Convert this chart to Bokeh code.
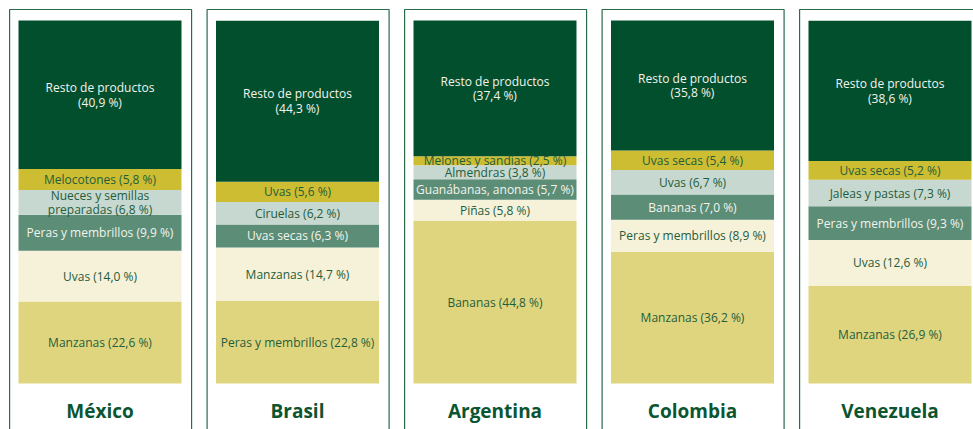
from bokeh.plotting import figure
from bokeh.models import Range1d, ColumnDataSource
from bokeh.core.properties import value
from bokeh.embed import file_html
from bokeh.resources import INLINE

countries = ["México", "Brasil", "Argentina", "Colombia", "Venezuela"]

# products listed bottom -> top
mexico_products = ["Manzanas", "Uvas", "Peras y membrillos", "Nueces y semillas\npreparadas", "Melocotones", "Resto de productos\n"]
mexico_values = [22.6, 14.0, 9.9, 6.8, 5.8, 40.9]

brasil_products = ["Peras y membrillos", "Manzanas", "Uvas secas", "Ciruelas", "Uvas", "Resto de productos\n"]
brasil_values = [22.8, 14.7, 6.3, 6.2, 5.6, 44.3]

argentina_products = ["Bananas", "Piñas", "Guanábanas, anonas", "Almendras", "Melones y sandías", "Resto de productos\n"]
argentina_values = [44.8, 5.8, 5.7, 3.8, 2.5, 37.4]

colombia_products = ["Manzanas", "Peras y membrillos", "Bananas", "Uvas", "Uvas secas", "Resto de productos\n"]
colombia_values = [36.2, 8.9, 7.0, 6.7, 5.4, 35.8]

venezuela_products = ["Manzanas", "Uvas", "Peras y membrillos", "Jaleas y pastas", "Uvas secas", "Resto de productos\n"]
venezuela_values = [26.9, 12.6, 9.3, 7.3, 5.2, 38.6]

all_products = [mexico_products, brasil_products, argentina_products, colombia_products, venezuela_products]
all_values = [mexico_values, brasil_values, argentina_values, colombia_values, venezuela_values]

seg_colors = ["#e0d57f", "#f6f1d9", "#5b8d77", "#c6d8cf", "#cdbd32", "#024f2e"]
txt_colors = ["#1f5d3b", "#1f5d3b", "#f4f4ec", "#1f5d3b", "#1f5d3b", "#f4f4ec"]

BAR_W = 0.8253
BOX_W = 0.9215

left, right, bottom, top, fill, tx, ty, tt, tc = [], [], [], [], [], [], [], [], []
for i, (prods, vals) in enumerate(zip(all_products, all_values)):
    cum = 0.0
    for k, (name, v) in enumerate(zip(prods, vals)):
        left.append(i - BAR_W / 2)
        right.append(i + BAR_W / 2)
        bottom.append(cum)
        top.append(cum + v)
        fill.append(seg_colors[k])
        tx.append(i)
        ty.append(cum + v / 2)
        pct = ("%.1f" % v).replace(".", ",")
        if name.endswith("\n"):
            label = name + "(" + pct + " %)"
        else:
            label = name + " (" + pct + " %)"
        tt.append(label)
        tc.append(txt_colors[k])
        cum += v

bars = ColumnDataSource(dict(left=left, right=right, bottom=bottom, top=top, fill=fill))
labels = ColumnDataSource(dict(x=tx, y=ty, text=tt, color=tc))
boxes = ColumnDataSource(dict(
    left=[i - BOX_W / 2 + 0.003 for i in range(len(countries))],
    right=[i + BOX_W / 2 + 0.003 for i in range(len(countries))],
    bottom=[-30] * len(countries),
    top=[103.03] * len(countries),
))
names = ColumnDataSource(dict(x=list(range(len(countries))), y=[-7.7] * len(countries), text=countries))

p = figure(width=973, height=429, x_range=Range1d(-0.5038, 4.4228), y_range=Range1d(-12.672, 105.51),
           output_backend="svg", toolbar_location=None, min_border=0,
           x_axis_location=None, y_axis_location=None)
p.grid.visible = False
p.outline_line_color = None
p.background_fill_color = "white"
p.border_fill_color = "white"

p.quad(left="left", right="right", bottom="bottom", top="top", source=boxes,
       fill_color=None, line_color="#2a6b4b", line_width=1.2)
p.quad(left="left", right="right", bottom="bottom", top="top", source=bars,
       fill_color="fill", line_color=None)
p.text(x="x", y="y", text="text", source=labels, text_align="center", text_baseline="middle",
       text_font=value("Open Sans"), text_font_size="12px", text_color="color",
       text_line_height=0.86)
p.text(x="x", y="y", text="text", source=names, text_align="center", text_baseline="middle",
       text_font=value("Open Sans"), text_font_size="19px", text_font_style="bold",
       text_color="#0b5531")

open("out.html", "w").write(file_html(p, INLINE))
